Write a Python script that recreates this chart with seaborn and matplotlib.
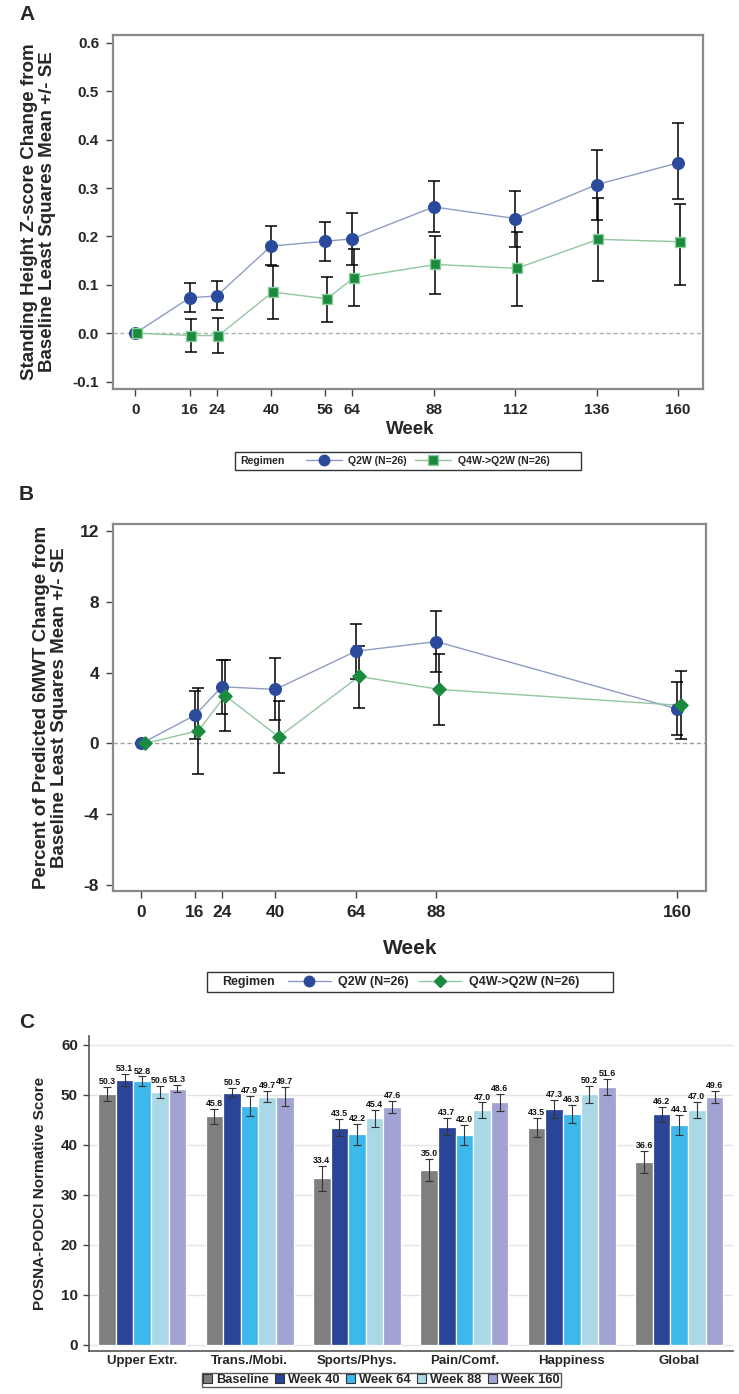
import matplotlib
matplotlib.use("Agg")
import matplotlib.pyplot as plt
from matplotlib.lines import Line2D
from matplotlib.patches import Rectangle
import seaborn as sns
import pandas as pd

# --- Panel A: standing height z-score change ---
weeks_a = [0, 16, 24, 40, 56, 64, 88, 112, 136, 160]
q2w_a = [0.0, 0.073, 0.077, 0.180, 0.190, 0.195, 0.261, 0.237, 0.307, 0.352]
q2w_a_lo = [0.0, 0.044, 0.047, 0.140, 0.149, 0.141, 0.209, 0.179, 0.234, 0.277]
q2w_a_hi = [0.0, 0.103, 0.108, 0.221, 0.230, 0.249, 0.314, 0.294, 0.379, 0.435]
q4w_a = [0.0, -0.005, -0.005, 0.085, 0.071, 0.115, 0.142, 0.134, 0.194, 0.189]
q4w_a_lo = [0.0, -0.039, -0.041, 0.030, 0.023, 0.056, 0.081, 0.057, 0.107, 0.100]
q4w_a_hi = [0.0, 0.029, 0.032, 0.139, 0.117, 0.173, 0.201, 0.209, 0.279, 0.268]

# --- Panel B: percent predicted 6MWT change ---
weeks_b = [0, 16, 24, 40, 64, 88, 160]
q2w_b = [0.0, 1.60, 3.20, 3.05, 5.20, 5.75, 1.95]
q2w_b_lo = [0.0, 0.28, 1.65, 1.30, 3.65, 4.04, 0.47]
q2w_b_hi = [0.0, 2.98, 4.70, 4.80, 6.75, 7.45, 3.45]
q4w_b = [0.0, 0.72, 2.70, 0.37, 3.78, 3.05, 2.15]
q4w_b_lo = [0.0, -1.72, 0.73, -1.64, 2.03, 1.07, 0.23]
q4w_b_hi = [0.0, 3.15, 4.70, 2.37, 5.52, 5.06, 4.07]

# --- Panel C: POSNA-PODCI normative scores ---
domains = ["Upper Extr.", "Trans./Mobi.", "Sports/Phys.", "Pain/Comf.", "Happiness", "Global"]
visits = ["Baseline", "Week 40", "Week 64", "Week 88", "Week 160"]
score_baseline = [50.3, 45.8, 33.4, 35.0, 43.5, 36.6]
score_w40 = [53.1, 50.5, 43.5, 43.7, 47.3, 46.2]
score_w64 = [52.8, 47.9, 42.2, 42.0, 46.3, 44.1]
score_w88 = [50.6, 49.7, 45.4, 47.0, 50.2, 47.0]
score_w160 = [51.3, 49.7, 47.6, 48.6, 51.6, 49.6]
se_baseline = [1.4, 1.5, 2.5, 2.2, 1.9, 2.2]
se_w40 = [1.2, 0.9, 1.7, 1.75, 1.8, 1.5]
se_w64 = [0.95, 2.0, 2.1, 2.0, 1.8, 2.0]
se_w88 = [1.2, 1.15, 1.7, 1.55, 1.7, 1.65]
se_w160 = [0.75, 1.9, 1.15, 1.7, 1.55, 1.25]

BLUE = "#2b4a9c"
BLUE_LINE = "#8d9cc2"
GREEN = "#1a8a3e"
GREEN_LINE = "#92c6a0"
GREEN_EDGE = "#8fcf9f"
BAR_COLORS = ["#7f7f7f", "#2a4598", "#3db8ea", "#aad8e6", "#a3a3d3"]

FONT = ["Liberation Sans", "DejaVu Sans"]

sns.set_theme(style="white")
plt.rcParams["font.family"] = FONT
plt.rcParams["axes.unicode_minus"] = False

W, H = 739, 1394
fig = plt.figure(figsize=(W / 100, H / 100), dpi=100)


def box(left, top, right, bottom):
    return [left / W, 1 - bottom / H, (right - left) / W, (bottom - top) / H]


def fx(x):
    return x / W


def fy(y):
    return 1 - y / H


def style_line_axes(ax, xticks, yticks, ylabels, fs):
    for s in ax.spines.values():
        s.set_color("#8a8a8a")
        s.set_linewidth(1.6)
    ax.set_xticks(xticks)
    ax.set_xticklabels([str(t) for t in xticks], fontweight="bold", fontsize=fs)
    ax.set_yticks(yticks)
    ax.set_yticklabels(ylabels, fontweight="bold", fontsize=fs)
    ax.tick_params(axis="both", which="both", direction="out", length=5, width=1,
                   color="#444444", bottom=True, left=True, top=False, right=False, pad=5)
    ax.grid(False)
    ax.set_xlabel("")


def draw_series(ax, weeks, mean, lo, hi, shift, marker, ms, regimen, line_c, mark_c, edge_c):
    x = [w + shift for w in weeks]
    df = pd.DataFrame({"week": x, "mean": mean, "regimen": regimen})
    sns.lineplot(data=df, x="week", y="mean", color=line_c, lw=1.0, ax=ax, zorder=2)
    yerr = [[m - l for m, l in zip(mean, lo)], [h - m for m, h in zip(mean, hi)]]
    ax.errorbar(x, mean, yerr=yerr, fmt="none", ecolor="black", elinewidth=1.1,
                capsize=4.5, capthick=1.1, zorder=3)
    sns.scatterplot(data=df, x="week", y="mean", marker=marker, s=ms, color=mark_c,
                    edgecolor=edge_c, linewidth=1.0, ax=ax, zorder=4, legend=False)


def regimen_legend(left, top, right, bottom, marker2, fs, xs):
    fig.patches.append(Rectangle((fx(left), fy(bottom)), fx(right - left), (bottom - top) / H,
                                 transform=fig.transFigure, fill=False, edgecolor="#333333",
                                 linewidth=1.0))
    yc = fy((top + bottom) / 2)
    fig.text(fx(xs[0]), yc, "Regimen", fontsize=fs, fontweight="bold", va="center", ha="left")
    h1 = Line2D([], [], color=BLUE_LINE, lw=1.0, marker="o", markersize=7.5,
                markerfacecolor=BLUE, markeredgecolor=BLUE)
    if marker2 == "s":
        h2 = Line2D([], [], color=GREEN_LINE, lw=1.0, marker="s", markersize=6.5,
                    markerfacecolor=GREEN, markeredgecolor=GREEN_EDGE)
    else:
        h2 = Line2D([], [], color=GREEN_LINE, lw=1.0, marker="D", markersize=6.5,
                    markerfacecolor=GREEN, markeredgecolor=GREEN)
    leg = fig.legend([h1, h2], ["Q2W (N=26)", "Q4W->Q2W (N=26)"], ncol=2, frameon=False,
                     loc="center left", bbox_to_anchor=(fx(xs[1]), yc),
                     prop={"size": fs, "weight": "bold"}, handlelength=3.4,
                     handletextpad=0.6, columnspacing=0.8, borderpad=0, borderaxespad=0)
    return leg


# ---------------- Panel A ----------------
ax_a = fig.add_axes(box(113, 35, 703, 389))
ax_a.axhline(0, color="#b0b0b0", lw=1.0, ls=(0, (3, 2)), zorder=1)
draw_series(ax_a, weeks_a, q2w_a, q2w_a_lo, q2w_a_hi, 0.0, "o", 70, "Q2W",
            BLUE_LINE, BLUE, BLUE)
draw_series(ax_a, weeks_a, q4w_a, q4w_a_lo, q4w_a_hi, 0.5, "s", 45, "Q4W->Q2W",
            GREEN_LINE, GREEN, GREEN_EDGE)
ax_a.set_xlim(-6.6, 167.4)
ax_a.set_ylim(-0.1155, 0.6165)
style_line_axes(ax_a, weeks_a, [-0.1, 0, 0.1, 0.2, 0.3, 0.4, 0.5, 0.6],
                ["-0.1", "0.0", "0.1", "0.2", "0.3", "0.4", "0.5", "0.6"], 11)
ax_a.set_ylabel("Standing Height Z-score Change from\nBaseline Least Squares Mean +/- SE",
                fontsize=13.5, fontweight="bold", linespacing=1.05)
ax_a.yaxis.set_label_coords(fx(56 - 113) / fx(590), 0.5)
fig.text(fx(410), fy(430), "Week", fontsize=13.5, fontweight="bold", ha="center", va="center")
regimen_legend(235, 452, 581, 470, "s", 7.6, [240, 306])
fig.text(fx(19), fy(15), "A", fontsize=15, fontweight="bold", ha="left", va="center")

# ---------------- Panel B ----------------
ax_b = fig.add_axes(box(113, 524, 706, 891))
ax_b.axhline(0, color="#a0a0a0", lw=1.0, ls=(0, (3, 2)), zorder=1)
draw_series(ax_b, weeks_b, q2w_b, q2w_b_lo, q2w_b_hi, 0.0, "o", 70, "Q2W",
            BLUE_LINE, BLUE, BLUE)
draw_series(ax_b, weeks_b, q4w_b, q4w_b_lo, q4w_b_hi, 1.0, "D", 45, "Q4W->Q2W",
            GREEN_LINE, GREEN, GREEN)
ax_b.set_xlim(-8.5, 168.6)
ax_b.set_ylim(-8.32, 12.38)
style_line_axes(ax_b, weeks_b, [-8, -4, 0, 4, 8, 12], ["-8", "-4", "0", "4", "8", "12"], 12.5)
ax_b.set_ylabel("Percent of Predicted 6MWT Change from\nBaseline Least Squares Mean +/- SE",
                fontsize=13.5, fontweight="bold", linespacing=1.05)
ax_b.yaxis.set_label_coords(fx(68 - 113) / fx(593), 0.5)
fig.text(fx(410), fy(948), "Week", fontsize=15, fontweight="bold", ha="center", va="center")
regimen_legend(207, 972, 613, 992, "D", 9, [222, 288])
fig.text(fx(19), fy(494), "B", fontsize=15, fontweight="bold", ha="left", va="center")

# ---------------- Panel C ----------------
ax_c = fig.add_axes(box(89, 1036, 733, 1351))
scores = [score_baseline, score_w40, score_w64, score_w88, score_w160]
ses = [se_baseline, se_w40, se_w64, se_w88, se_w160]
rows = []
for v, sc in zip(visits, scores):
    for d, s in zip(domains, sc):
        rows.append({"domain": d, "visit": v, "score": s})
df_c = pd.DataFrame(rows)

for yv in range(0, 61, 10):
    ax_c.axhline(yv, color="#e4e4e4", lw=1.0, zorder=0)
sns.barplot(data=df_c, x="domain", y="score", hue="visit", order=domains, hue_order=visits,
            palette=BAR_COLORS, saturation=1, width=0.82, edgecolor="white", linewidth=0.9,
            errorbar=None, ax=ax_c, zorder=2)
for cont, sc, se in zip(ax_c.containers, scores, ses):
    xs = [p.get_x() + p.get_width() / 2 for p in cont]
    ax_c.errorbar(xs, sc, yerr=se, fmt="none", ecolor="#333333", elinewidth=0.8,
                  capsize=3, capthick=0.8, zorder=3)
    for x, s, e in zip(xs, sc, se):
        ax_c.text(x, s + e + 0.15, f"{s:.1f}", ha="center", va="bottom", fontsize=6.3,
                  fontweight="bold", color="#111111", zorder=4)
ax_c.set_xlim(-0.495, 5.5)
ax_c.set_ylim(-1.2, 61.8)
ax_c.set_yticks(range(0, 61, 10))
ax_c.set_yticklabels([str(v) for v in range(0, 61, 10)], fontweight="bold", fontsize=11)
ax_c.set_xticks(range(len(domains)))
ax_c.set_xticklabels(domains, fontweight="bold", fontsize=9.5)
ax_c.tick_params(axis="y", direction="out", length=4, width=1, color="#444444", left=True, pad=4)
ax_c.tick_params(axis="x", length=0, pad=3)
for side in ["top", "right"]:
    ax_c.spines[side].set_visible(False)
for side in ["left", "bottom"]:
    ax_c.spines[side].set_color("#555555")
    ax_c.spines[side].set_linewidth(1.2)
ax_c.set_xlabel("")
ax_c.set_ylabel("POSNA-PODCI Normative Score", fontsize=11, fontweight="bold")
ax_c.yaxis.set_label_coords(fx(47 - 89) / fx(644), 0.5)
ax_c.grid(False)
handles = [Rectangle((0, 0), 1, 1, facecolor=c, edgecolor="#333333", lw=0.8) for c in BAR_COLORS]
ax_c.legend(handles, visits, ncol=5, loc="center", bbox_to_anchor=(fx(381), fy(1380)),
            bbox_transform=fig.transFigure, frameon=True, fancybox=False, edgecolor="#333333",
            prop={"weight": "bold", "size": 9.3}, handlelength=0.7,
            handleheight=0.7, handletextpad=0.3, columnspacing=0.5, borderpad=0.1)
fig.text(fx(19), fy(1023), "C", fontsize=15, fontweight="bold", ha="left", va="center")

fig.savefig("out.png", dpi=100)
